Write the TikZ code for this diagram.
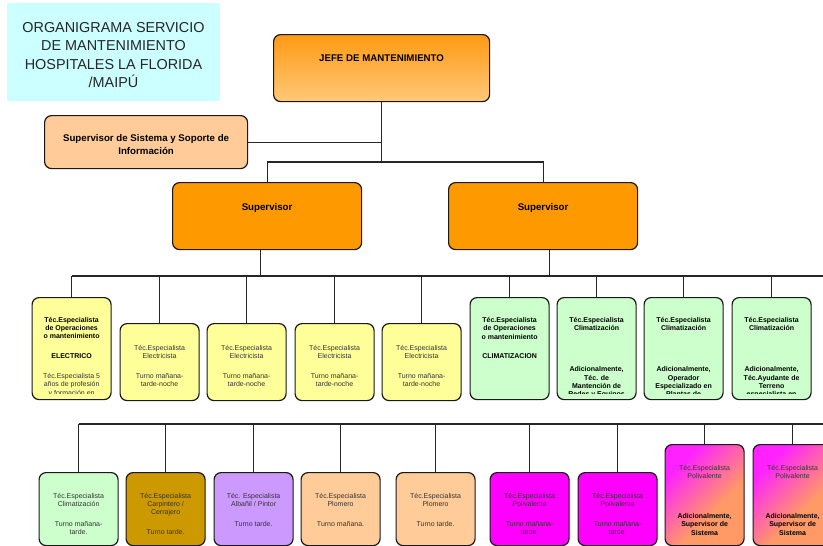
\documentclass[tikz,border=0pt]{standalone}
\usepackage{fontspec}
\setmainfont{Liberation Sans}

\definecolor{titlecyan}{HTML}{CCFFFF}
\definecolor{orangesup}{HTML}{FF9900}
\definecolor{orangetop}{HTML}{FF9A14}
\definecolor{orangebot}{HTML}{FFC878}
\definecolor{peach}{HTML}{FFCC99}
\definecolor{lemon}{HTML}{FFFF99}
\definecolor{mint}{HTML}{CCFFCC}
\definecolor{gold}{HTML}{CC9900}
\definecolor{lilac}{HTML}{CC99FF}
\definecolor{fuchsia}{HTML}{FF00FF}
\definecolor{mgc}{HTML}{FF22FF}
\definecolor{salc}{HTML}{FF9966}

\pgfdeclarehorizontalshading{magsal}{100bp}{color(0bp)=(mgc); color(28bp)=(mgc); color(60bp)=(salc); color(100bp)=(salc)}

% box with its text clipped a little above the bottom edge
% #1 name, #2 box style, #3 left, #4 top, #5 width, #6 height,
% #7 text offset from top, #8 text style, #9 text
\newcommand\orgbox[9]{%
  \node[rbox, #2, minimum width=#5pt, minimum height=#6pt, anchor=north west] (#1) at (#3,#4) {};
  \begin{scope}
    \clip ([yshift=6.5pt]#1.south west) rectangle (#1.north east);
    \node[#8, anchor=north] (#1-txt) at ([yshift=-#7pt]#1.north) {#9};
  \end{scope}}
\newcommand\B[1]{{\bfseries\color{black}#1}}

\begin{document}
\begin{tikzpicture}[x=1pt,y=-1pt,
  conn/.style={draw=black!85, line width=1.2pt},
  rbox/.style={draw=black!90, line width=1.2pt, rounded corners=7pt, inner sep=0pt},
  boxtext/.style={font=\fontsize{7}{8.3}\selectfont, align=center, inner sep=0pt, text=black!80},
  bigtext/.style={font=\bfseries\fontsize{9.7}{12.4}\selectfont, align=center, inner sep=0pt, text=black},
  grad/.style={shading=magsal, shading angle=-45},
]
\useasboundingbox (0,0) rectangle (823,546);

% title
\node[fill=titlecyan, minimum width=213pt, minimum height=98pt, anchor=north west, inner sep=0pt] (title) at (7,3) {};
\node[font=\fontsize{14.4}{18.3}\selectfont, align=center, inner sep=0pt, text=black!85] (title-txt) at (113.5,55) {ORGANIGRAMA SERVICIO\\DE MANTENIMIENTO\\HOSPITALES LA FLORIDA\\/MAIPÚ};

% top levels
\orgbox{jefe}{top color=orangetop, bottom color=orangebot}{273}{34}{216}{67}{21}{bigtext}{JEFE DE MANTENIMIENTO}
\orgbox{sis}{fill=peach}{44}{115}{203}{53}{19.5}{bigtext}{Supervisor de Sistema y Soporte de\\Información}
\orgbox{supL}{fill=orangesup}{172}{182}{189}{67}{21}{bigtext}{Supervisor}
\orgbox{supR}{fill=orangesup}{448}{182}{189}{67}{21}{bigtext}{Supervisor}

% second row
\orgbox{r2a}{fill=lemon}{31.5}{297}{79}{102}{20}{boxtext}{\B{Téc.Especialista}\\\B{de Operaciones}\\\B{o mantenimiento}\\[10.9pt]\B{ELECTRICO}\\[12pt]Téc.Especialista 5\\años de profesión\\y formación en}
\orgbox{r2b}{fill=lemon}{119.5}{323}{79}{77}{21.7}{boxtext}{Téc.Especialista\\Electricista\\[11.7pt]Turno mañana-\\tarde-noche}
\orgbox{r2c}{fill=lemon}{206.5}{323}{79}{77}{21.7}{boxtext}{Téc.Especialista\\Electricista\\[11.7pt]Turno mañana-\\tarde-noche}
\orgbox{r2d}{fill=lemon}{294.5}{323}{79}{77}{21.7}{boxtext}{Téc.Especialista\\Electricista\\[11.7pt]Turno mañana-\\tarde-noche}
\orgbox{r2e}{fill=lemon}{381.5}{323}{79}{77}{21.7}{boxtext}{Téc.Especialista\\Electricista\\[11.7pt]Turno mañana-\\tarde-noche}
\orgbox{r2f}{fill=mint}{469.5}{297}{79}{102}{20.3}{boxtext}{\B{Téc.Especialista}\\\B{de Operaciones}\\\B{o mantenimiento}\\[11.3pt]\B{CLIMATIZACION}}
\orgbox{r2g}{fill=mint}{556.5}{297}{79}{102}{20.3}{boxtext}{\B{Téc.Especialista}\\\B{Climatización}\\[32.7pt]\B{Adicionalmente,}\\\B{Téc. de}\\\B{Mantención de}\\\B{Redes y Equipos}}
\orgbox{r2h}{fill=mint}{643.5}{297}{79}{102}{20.3}{boxtext}{\B{Téc.Especialista}\\\B{Climatización}\\[32.7pt]\B{Adicionalmente,}\\\B{Operador}\\\B{Especializado en}\\\B{Plantas de}}
\orgbox{r2i}{fill=mint}{731.5}{297}{79}{102}{20.3}{boxtext}{\B{Téc.Especialista}\\\B{Climatización}\\[32.7pt]\B{Adicionalmente,}\\\B{Téc.Ayudante de}\\\B{Terreno}\\\B{especialista en}}

% third row
\orgbox{r3a}{fill=mint}{38.5}{472}{79}{73}{21}{boxtext}{Téc.Especialista\\Climatización\\[11.7pt]Turno mañana-\\tarde.}
\orgbox{r3b}{fill=gold}{125.5}{472}{79}{73}{21}{boxtext}{Téc.Especialista\\Carpintero /\\Cerrajero\\[11.7pt]Turno tarde.}
\orgbox{r3c}{fill=lilac}{213.5}{472}{79}{73}{21}{boxtext}{Téc. Especialista\\Albañil / Pintor\\[11.7pt]Turno tarde.}
\orgbox{r3d}{fill=peach}{300.5}{472}{79}{73}{21}{boxtext}{Téc.Especialista\\Plomero\\[11.7pt]Turno mañana.}
\orgbox{r3e}{fill=peach}{395.5}{472}{79}{73}{21}{boxtext}{Téc.Especialista\\Plomero\\[11.7pt]Turno tarde.}
\orgbox{r3f}{fill=fuchsia}{489.5}{472}{79}{73}{21}{boxtext}{Téc.Especialista\\Polivalente\\[11.7pt]Turno mañana-\\tarde.}
\orgbox{r3g}{fill=fuchsia}{577.5}{472}{79}{73}{21}{boxtext}{Téc.Especialista\\Polivalente\\[11.7pt]Turno mañana-\\tarde.}
\orgbox{r3h}{grad}{664.5}{444}{79}{101}{21.3}{boxtext}{Téc.Especialista\\Polivalente\\[31.3pt]\B{Adicionalmente,}\\\B{Supervisor de}\\\B{Sistema}}
\orgbox{r3i}{grad}{752.5}{444}{79}{101}{21.3}{boxtext}{Téc.Especialista\\Polivalente\\[31.3pt]\B{Adicionalmente,}\\\B{Supervisor de}\\\B{Sistema}}

% connectors
\coordinate (hub) at (381,162);
\coordinate (bus2) at (824,276);
\coordinate (bus3) at (824,424);
\draw[conn] (jefe.south) -- (jefe.south |- hub);
\draw[conn] (sis.east) -- (sis.east -| jefe.south);
\draw[conn] (supL.north) |- (jefe.south |- hub) -| (supR.north);
\draw[conn] ([xshift=-6.5pt]supL.south) -- ([xshift=-6.5pt]supL.south |- bus2);
\draw[conn] ([xshift=6.5pt]supR.south) -- ([xshift=6.5pt]supR.south |- bus2);
\draw[conn] (r2a.north |- bus2) -- (bus2);
\foreach \n in {r2a,r2b,r2c,r2d,r2e,r2f,r2g,r2h,r2i}
  \draw[conn] (\n.north) -- (\n.north |- bus2);
\draw[conn] (r3a.north |- bus3) -- (bus3);
\foreach \n in {r3a,r3b,r3c,r3d,r3e,r3f,r3g,r3h,r3i}
  \draw[conn] (\n.north) -- (\n.north |- bus3);
\end{tikzpicture}
\end{document}
